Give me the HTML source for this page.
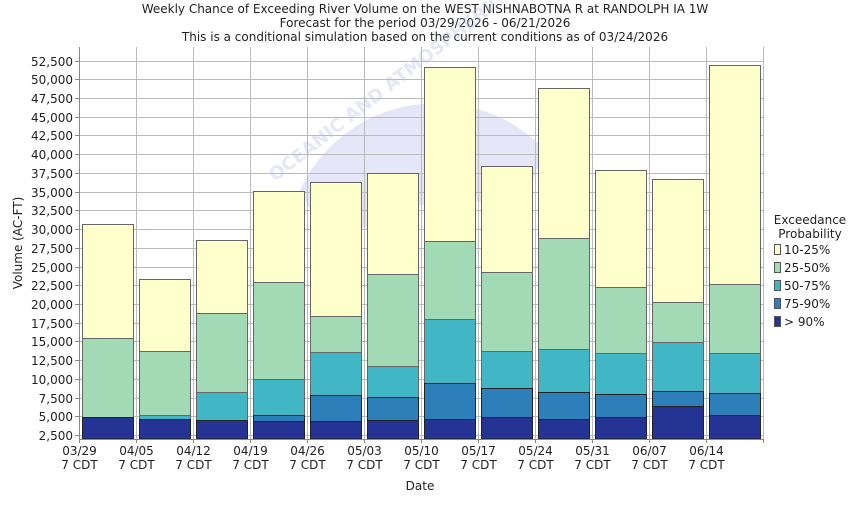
<!DOCTYPE html>
<html><head><style>
body{margin:0;background:#fff}
svg text{font-family:"DejaVu Sans","Liberation Sans",sans-serif;font-size:12px;fill:#222}
</style></head><body>
<svg width="850" height="500" xmlns="http://www.w3.org/2000/svg">
<rect width="850" height="500" fill="#fff"/>
<text x="425" y="13" text-anchor="middle">Weekly Chance of Exceeding River Volume on the WEST NISHNABOTNA R at RANDOLPH IA 1W</text>
<text x="425" y="27" text-anchor="middle">Forecast for the period 03/29/2026 - 06/21/2026</text>
<text x="425" y="41" text-anchor="middle">This is a conditional simulation based on the current conditions as of 03/24/2026</text>
<!-- watermark -->
<g opacity="0.35">
<path d="M300,190 A150,150 0 0 1 545,150 L520,210 Q420,180 330,250 Z" fill="#b8b8f0"/>
<text x="275" y="182" transform="rotate(-38 275 182)" style="font-size:18px;fill:#b8b8f0;font-weight:bold">OCEANIC AND ATMOSPHERIC</text>
</g>
<g id="grid" stroke="#bbb" stroke-width="1">
</g>
<g id="bars"></g>
<g id="ax"></g>
<text x="22" y="243" transform="rotate(-90 22 243)" text-anchor="middle">Volume (AC-FT)</text>
<text x="420" y="490" text-anchor="middle">Date</text>
<text x="810" y="224" text-anchor="middle">Exceedance</text>
<text x="810" y="238" text-anchor="middle">Probability</text>
<g stroke="#555" stroke-width="1">
<rect x="774.5" y="244.5" width="6" height="10" fill="#ffffcc"/>
<rect x="774.5" y="262.5" width="6" height="10" fill="#a1dab4"/>
<rect x="774.5" y="280.5" width="6" height="10" fill="#41b6c4"/>
<rect x="774.5" y="298.5" width="6" height="10" fill="#2c7fb8"/>
<rect x="774.5" y="316.5" width="6" height="10" fill="#253494"/>
</g>
<text x="784" y="254">10-25%</text>
<text x="784" y="272">25-50%</text>
<text x="784" y="290">50-75%</text>
<text x="784" y="308">75-90%</text>
<text x="784" y="326">&gt; 90%</text>
</svg>
<script>
const NS="http://www.w3.org/2000/svg";
function el(p,t,a,txt){const e=document.createElementNS(NS,t);for(const k in a)e.setAttribute(k,a[k]);if(txt!==undefined)e.textContent=txt;p.appendChild(e);return e;}
const g=document.getElementById('grid'),b=document.getElementById('bars'),ax=document.getElementById('ax');
const L=79,R=763,T=47,B=439;
for(let i=0;i<=20;i++){const y=435-i*18.72;const yy=Math.round(y)+0.5;
el(g,'line',{x1:L,x2:R,y1:yy,y2:yy});
el(ax,'line',{x1:L-4,x2:L,y1:yy,y2:yy,stroke:'#888'});
el(ax,'text',{x:L-6,y:yy+4.5,'text-anchor':'end'},(2500+i*2500).toLocaleString('en-US'));}
const dates=['03/29','04/05','04/12','04/19','04/26','05/03','05/10','05/17','05/24','05/31','06/07','06/14'];
for(let i=0;i<=12;i++){const x=L+57*i+0.5;el(g,'line',{x1:x,x2:x,y1:T,y2:B});
el(ax,'line',{x1:x,x2:x,y1:B,y2:B+4,stroke:'#888'});
if(i<12){el(ax,'text',{x:x,y:455,'text-anchor':'middle'},dates[i]);el(ax,'text',{x:x,y:469,'text-anchor':'middle'},'7 CDT');}}
el(ax,'line',{x1:L+0.5,x2:L+0.5,y1:T,y2:B,stroke:'#888'});
el(ax,'line',{x1:L,x2:R,y1:B+0.5,y2:B+0.5,stroke:'#888'});
const cols=['#ffffcc','#a1dab4','#41b6c4','#2c7fb8','#253494'];
const D=[[224.3,338.3,417.3,417.3,417.3],[279.3,351.3,415,419.3,419.3],[239.7,313.3,392.3,420.3,420.3],[191.3,282.3,379.3,415.3,421],[182.3,316.3,352.3,395.3,421],[172.7,274.3,366.3,397.3,420],[67.3,241.3,319.3,383.3,419.3],[166.3,272.3,351.3,388.3,417.3],[88.3,238.3,349.3,392.3,419.3],[170,287.3,353.3,394.3,417.3],[179.3,302.3,342.3,391.3,406.3],[65.3,283.7,353.3,393.3,415.3]];
D.forEach((d,i)=>{const x=L+57*i+3.5;for(let k=0;k<5;k++){const top=Math.round(d[k])+0.5;const bot=k<4?Math.round(d[k+1])+0.5:B;if(bot-top<=0)continue;
el(b,'rect',{x:x,y:top,width:51,height:bot-top,fill:cols[k],stroke:k>=3?'#222':'#666','stroke-width':1});}});
</script>
</body></html>
